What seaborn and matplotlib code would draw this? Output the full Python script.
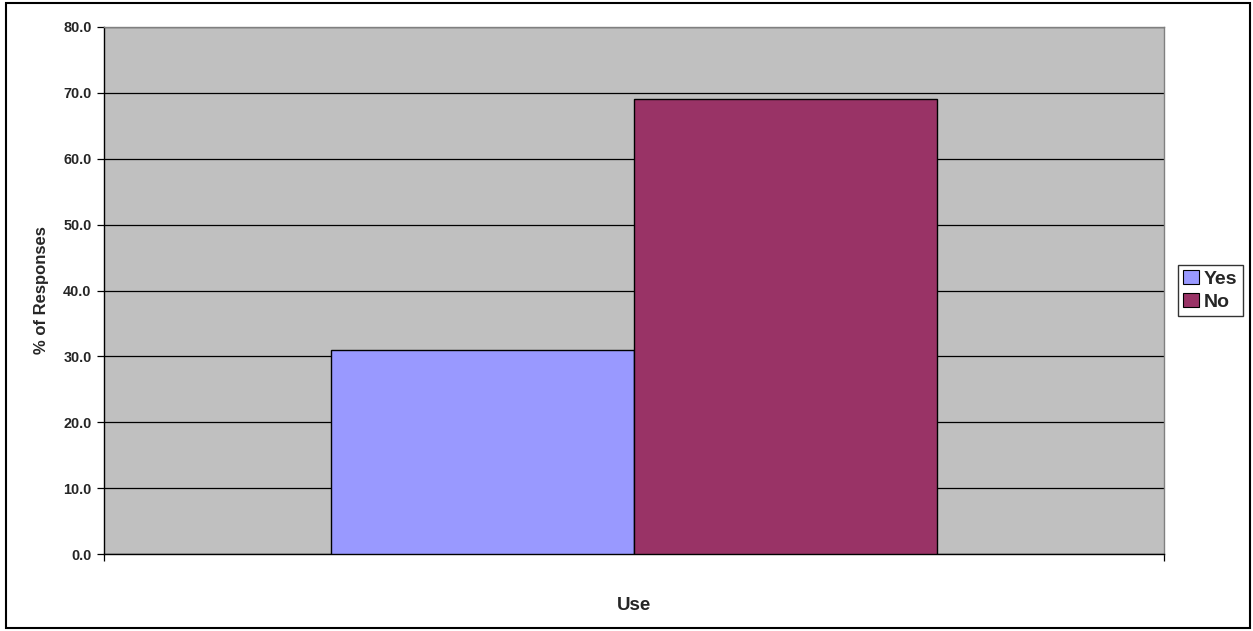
import matplotlib
matplotlib.use("Agg")
import matplotlib.pyplot as plt
import seaborn as sns
import pandas as pd

# Survey responses
category = ["Use"]
answers = ["Yes", "No"]
percent = [31.0, 69.0]
colors = ["#9999FF", "#993366"]
y_ticks = [0, 10, 20, 30, 40, 50, 60, 70, 80]

df = pd.DataFrame({
    "Category": category * len(answers),
    "Answer": answers,
    "Percent": percent,
})

sns.set_style("white")
plt.rcParams["font.family"] = ["Liberation Sans", "DejaVu Sans"]

fig = plt.figure(figsize=(12.53, 6.31), dpi=100)
ax = fig.add_axes([104 / 1253, 1 - 554 / 631, 1060 / 1253, 527 / 631])

sns.barplot(data=df, x="Category", y="Percent", hue="Answer",
            hue_order=answers, palette=colors, width=0.571,
            edgecolor="black", linewidth=1.0, saturation=1, ax=ax,
            legend=True, zorder=3)

ax.set_facecolor("#C0C0C0")
ax.set_xlim(-0.5, 0.5)
ax.set_ylim(0, 80)
ax.set_yticks(y_ticks)
ax.set_yticklabels([f"{v:.1f}" for v in y_ticks], fontsize=10.4, fontweight="bold")
ax.yaxis.grid(True, color="black", linewidth=0.9, zorder=0)
ax.set_axisbelow(True)
ax.set_xticks([-0.5, 0.5])
ax.set_xticklabels(["", ""])
ax.tick_params(axis="both", direction="out", length=5, width=0.9, color="black",
               left=True, bottom=True, pad=4)

for side in ("left", "bottom"):
    ax.spines[side].set_color("black")
    ax.spines[side].set_linewidth(1.0)
for side in ("top", "right"):
    ax.spines[side].set_color("#808080")
    ax.spines[side].set_linewidth(1.0)

ax.set_xlabel("Use", fontsize=13.5, fontweight="bold", labelpad=22)
ax.set_ylabel("% of Responses", fontsize=12, fontweight="bold", labelpad=10)

handles, labels = ax.get_legend_handles_labels()
leg = ax.legend(handles, labels, loc="center left", bbox_to_anchor=(1.0132, 0.5),
                frameon=True, fancybox=False, edgecolor="black",
                prop={"size": 14, "weight": "bold"}, handlelength=0.8,
                handleheight=0.7, handletextpad=0.25, borderpad=0.28,
                labelspacing=0.3, borderaxespad=0)
leg.get_frame().set_linewidth(1.0)
for h in leg.legend_handles:
    h.set_edgecolor("black")
    h.set_linewidth(0.8)

# Outer chart border
fig.patches.append(plt.Rectangle((6 / 1253, 3 / 631), 1244 / 1253, 625 / 631,
                                 transform=fig.transFigure, fill=False,
                                 edgecolor="black", linewidth=1.5))

fig.savefig("out.png", dpi=100, facecolor="white")
